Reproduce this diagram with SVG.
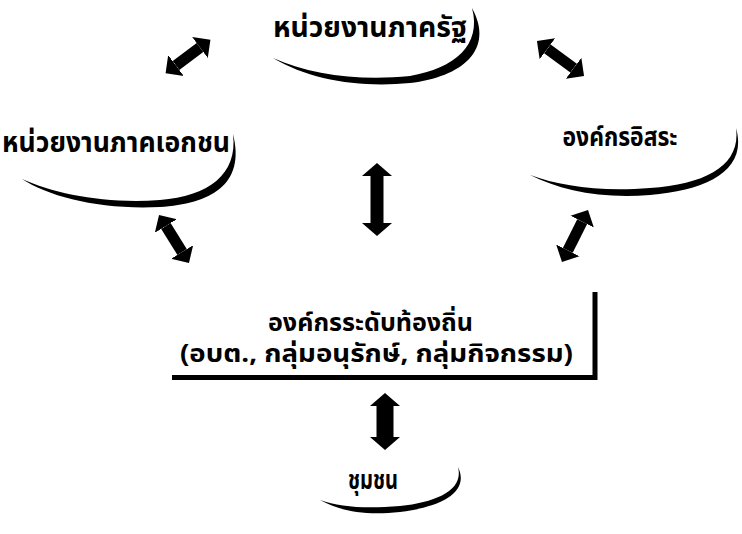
<svg xmlns="http://www.w3.org/2000/svg" width="742" height="534" viewBox="0 0 742 534">
<style>
.lbl{font-family:"Noto Sans Thai","Noto Sans Thai UI","Loma","Garuda","Noto Sans","DejaVu Sans",sans-serif;font-weight:bold;fill:#000;text-anchor:middle}
.sw{fill:#000}
.con{stroke:#000;fill:none}
</style>
<defs>
<marker id="ah" viewBox="0 -14 14 28" refX="0" refY="0" markerWidth="14" markerHeight="28" markerUnits="userSpaceOnUse" orient="auto-start-reverse">
<path d="M0,-13 L13,0 L0,13 Z" fill="#000"/>
</marker>
<marker id="ah2" viewBox="0 -16 14 32" refX="0" refY="0" markerWidth="14" markerHeight="32" markerUnits="userSpaceOnUse" orient="auto-start-reverse">
<path d="M0,-15 L13,0 L0,15 Z" fill="#000"/>
</marker>
</defs>
<rect width="742" height="534" fill="#fff"/>
<g id="n-state">
<path class="sw" d="M273,58 C310,80 360,88 410,83 C462,77 495,50 472,8 C482,45 455,68 410,76 C360,81 310,75 273,58 Z"/>
<text class="lbl" x="370" y="37" font-size="28" textLength="194" lengthAdjust="spacingAndGlyphs">หน่วยงานภาครัฐ</text>
</g>
<g id="n-private">
<path class="sw" d="M22,179 C50,197 100,210 160,207 C210,204 246,185 233,134 C238,175 208,196 160,200 C105,204 55,194 22,179 Z"/>
<text class="lbl" x="116" y="152" font-size="28" textLength="228" lengthAdjust="spacingAndGlyphs">หน่วยงานภาคเอกชน</text>
</g>
<g id="n-indep">
<path class="sw" d="M530,175 C560,190 600,199 650,195 C708,190 748,170 736,128 C741,165 707,184 650,188 C600,192 560,186 530,175 Z"/>
<text class="lbl" x="620" y="146" font-size="26" textLength="115" lengthAdjust="spacingAndGlyphs">องค์กรอิสระ</text>
</g>
<g id="n-local">
<text class="lbl" x="370.5" y="331" font-size="25" textLength="205" lengthAdjust="spacingAndGlyphs">องค์กรระดับท้องถิ่น</text>
<text class="lbl" x="376.5" y="362" font-size="25" textLength="393" lengthAdjust="spacingAndGlyphs">(อบต., กลุ่มอนุรักษ์, กลุ่มกิจกรรม)</text>
<path d="M595,292 V377.5 H172" stroke="#000" stroke-width="5" fill="none"/>
</g>
<g id="n-community">
<path class="sw" d="M320,500 C340,511 365,516 400,512 C442,507 470,492 458,467 C464,490 437,502 400,506 C365,509 340,507 320,500 Z"/>
<text class="lbl" x="373" y="489" font-size="26" textLength="50" lengthAdjust="spacingAndGlyphs">ชุมชน</text>
</g>
<g id="connectors">
<line class="con" x1="176" y1="65.5" x2="200" y2="47.5" stroke-width="11" marker-start="url(#ah)" marker-end="url(#ah)"/>
<line class="con" x1="547.4" y1="48.8" x2="573.6" y2="68.2" stroke-width="11" marker-start="url(#ah)" marker-end="url(#ah)"/>
<line class="con" x1="377" y1="176" x2="377" y2="223" stroke-width="13" marker-start="url(#ah2)" marker-end="url(#ah2)"/>
<line class="con" x1="165.9" y1="226" x2="182.1" y2="252" stroke-width="11" marker-start="url(#ah)" marker-end="url(#ah)"/>
<line class="con" x1="582.2" y1="221.6" x2="567.8" y2="250.4" stroke-width="11" marker-start="url(#ah)" marker-end="url(#ah)"/>
<line class="con" x1="385" y1="406" x2="385" y2="437" stroke-width="17" marker-start="url(#ah2)" marker-end="url(#ah2)"/>
</g>
</svg>
